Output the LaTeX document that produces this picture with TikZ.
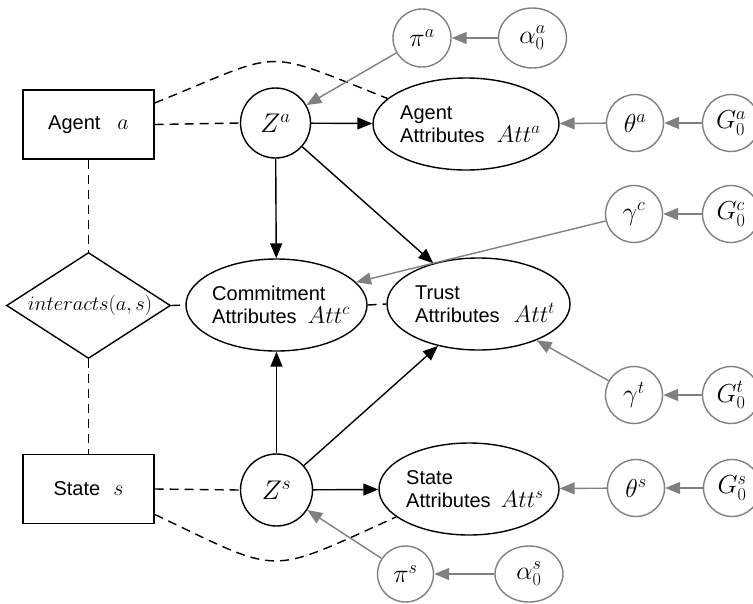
\RequirePackage{fix-cm}
\documentclass[tikz,border=0pt]{standalone}
\usepackage{fontspec}
\setmainfont{Liberation Sans}
\usetikzlibrary{shapes.geometric,arrows.meta}
\definecolor{pgray}{RGB}{128,128,128}
\newcommand\attm[1]{{\fontsize{24}{23}\selectfont$#1$}}
\newcommand\boxm[1]{{\fontsize{22}{23}\selectfont$#1$}}
\begin{document}
\begin{tikzpicture}[x=1pt,y=-1pt,
  every node/.style={font=\fontsize{20}{23}\selectfont},
  box/.style={draw,line width=1.4pt,rectangle,minimum width=131pt,minimum height=69pt,inner sep=0pt},
  dia/.style={draw,line width=1.4pt,diamond,aspect=1.55,minimum width=164pt,minimum height=106pt,inner sep=0pt},
  zc/.style={draw,line width=1.4pt,circle,minimum size=70pt,inner sep=0pt,font=\fontsize{27}{30}\selectfont},
  att/.style={draw,line width=1.4pt,ellipse,minimum width=184pt,minimum height=92pt,inner sep=0pt},
  txt/.style={inner sep=0pt,align=left,anchor=west},
  gc/.style={draw=pgray,line width=1.4pt,circle,minimum size=57pt,inner sep=0pt,text=black,font=\fontsize{26}{28}\selectfont},
  ge/.style={draw=pgray,line width=1.4pt,ellipse,minimum width=68pt,minimum height=59pt,inner sep=0pt,text=black,font=\fontsize{26}{28}\selectfont},
  blk/.style={line width=1.4pt,-{Triangle[length=15pt,width=12pt]}},
  gry/.style={draw=pgray,line width=1.4pt,-{Triangle[length=15pt,width=12pt]},pgray},
  dsh/.style={line width=1.4pt,dash pattern=on 9pt off 6pt},
]
\clip (0,0) rectangle (753,603);
% left column
\node[box] (Agent) at (88.5,124.5) {Agent\hspace{17pt}\boxm{a}};
\node[box] (State) at (88.5,489) {State\hspace{13pt}\boxm{s}};
\node[dia] (Dia) at (88.5,305.5) {};
\node[inner sep=0pt,font=\fontsize{20.5}{23}\selectfont] (DiaT) at (90,305.5) {$interacts(a,s)$};
% latent
\node[zc] (Za) at (275.5,123) {$Z^a$};
\node[zc,minimum size=72pt] (Zs) at (276.5,490) {$Z^s$};
% attribute ellipses
\node[att,minimum width=186pt] (AA) at (466,124) {};
\node[txt] (AAt) at (400,124) {Agent\\Attributes\hspace{12pt}\attm{Att^a}};
\node[att,minimum width=181pt] (Comm) at (276.5,305) {};
\node[txt] (CommT) at (212,305) {Commitment\\Attributes\hspace{11pt}\attm{Att^c}};
\node[att,minimum width=183pt] (Trust) at (478.5,304) {};
\node[txt] (TrustT) at (415,304) {Trust\\Attributes\hspace{14pt}\attm{Att^t}};
\node[att,minimum width=180pt] (SA) at (469,489) {};
\node[txt] (SAt) at (406,489) {State\\Attributes\hspace{10pt}\attm{Att^s}};
% hyper-parameters
\node[gc,minimum size=58pt] (piA) at (422,38) {$\pi^a$};
\node[ge,minimum height=60pt] (aA0) at (532.5,38) {$\alpha^a_0$};
\node[gc] (thA) at (635,123) {$\theta^a$};
\node[gc] (GA0) at (731,123) {$G^a_0$};
\node[gc] (gC) at (634,214) {$\gamma^c$};
\node[gc] (GC0) at (731,214) {$G^c_0$};
\node[gc] (gT) at (634,395) {$\gamma^t$};
\node[gc] (GT0) at (731,395) {$G^t_0$};
\node[gc] (thS) at (636,488) {$\theta^s$};
\node[gc] (GS0) at (732,488) {$G^s_0$};
\node[gc,minimum size=56pt] (piS) at (405.5,574) {$\pi^s$};
\node[ge,minimum height=56pt] (aS0) at (529,574) {$\alpha^s_0$};
% dashed undirected links
\draw[dsh] (Agent.south) -- (Dia.north);
\draw[dsh] (Dia.south) -- (State.north);
\draw[dsh] (Agent.east) -- (Za.west);
\draw[dsh] (State.east) -- (Zs.west);
\draw[dsh] (Dia.east) -- (Comm.west);
\draw[dsh] (Comm.east) -- (Trust.west);
\draw[dsh] (Agent.18) .. controls (286,50) and (258,47) .. (AA.162);
\draw[dsh] (State.-21) .. controls (284,576) and (265,576) .. (SA.201);
% black arrows
\draw[blk] (Za) -- (AA);
\draw[blk] (Za) -- (Comm);
\draw[blk] (Za) -- (Trust.138);
\draw[blk] (Zs) -- (SA);
\draw[blk] (Zs) -- (Comm);
\draw[blk] (Zs) -- (Trust.-134);
% gray arrows
\draw[gry] (aA0) -- (piA);
\draw[gry] (piA) -- (Za);
\draw[gry] (GA0) -- (thA);
\draw[gry] (thA) -- (AA);
\draw[gry] (GC0) -- (gC);
\draw[gry] (gC) -- (Comm.16);
\draw[gry] (GT0) -- (gT);
\draw[gry] (gT) -- (Trust.-32);
\draw[gry] (GS0) -- (thS);
\draw[gry] (thS) -- (SA);
\draw[gry] (aS0) -- (piS);
\draw[gry] (piS) -- (Zs);
\end{tikzpicture}
\end{document}
